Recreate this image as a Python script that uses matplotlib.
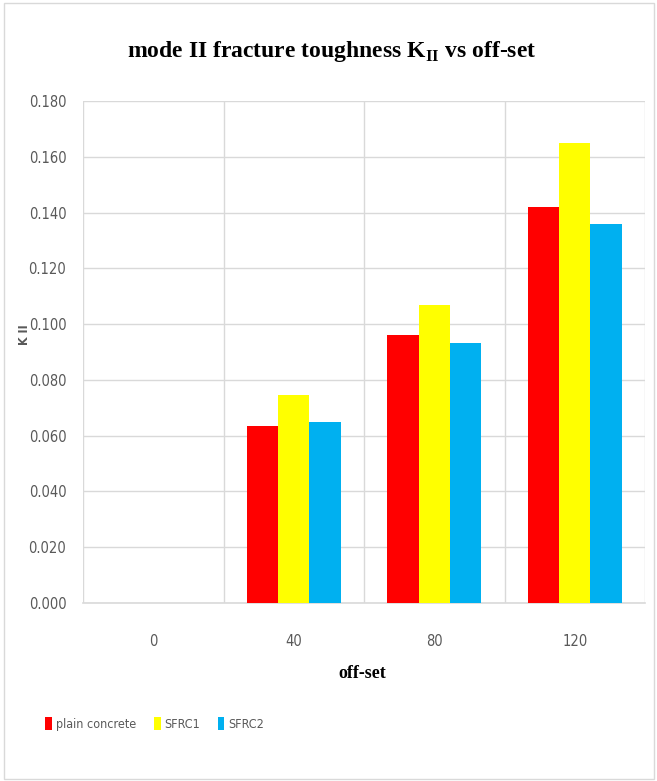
import matplotlib.pyplot as plt
import numpy as np
from matplotlib.patches import Rectangle

# data
offsets = ['0', '40', '80', '120']
plain_concrete = [0.0, 0.0634, 0.0960, 0.1421]
sfrc1 = [0.0, 0.0745, 0.1068, 0.1648]
sfrc2 = [0.0, 0.0648, 0.0931, 0.1358]

series = [('plain concrete', plain_concrete, '#ff0000'),
          ('SFRC1', sfrc1, '#ffff00'),
          ('SFRC2', sfrc2, '#00b0f0')]

narrow = ['DejaVu Sans']
serif = ['Liberation Serif', 'DejaVu Serif']
grey = '#595959'

fig = plt.figure(figsize=(6.57, 7.81), dpi=100)
W, H = 657, 781
ax = fig.add_axes([83 / W, 1 - 603 / H, (645 - 83) / W, (603 - 101) / H])

# light border round the whole chart
fig.patches.append(Rectangle((4 / W, 2 / H), 650 / W, 776 / H, transform=fig.transFigure,
                             fill=False, edgecolor='#d9d9d9', linewidth=1))

x = np.arange(len(offsets))
bw = 0.222
for i, (label, vals, col) in enumerate(series):
    ax.bar(x + (i - 1) * bw, vals, width=bw, color=col, label=label, zorder=3)

ax.set_xlim(-0.5, len(offsets) - 0.5)
ax.set_ylim(0, 0.18)
ax.set_yticks(np.arange(0, 0.181, 0.02))
ax.set_yticklabels(['%.3f' % v for v in np.arange(0, 0.181, 0.02)])
ax.set_xticks(x)
ax.set_xticklabels(offsets)

# gridlines: horizontal at y ticks, vertical at category boundaries
ax.grid(axis='y', color='#d9d9d9', linewidth=1, zorder=0)
for b in np.arange(-0.5, len(offsets), 1.0):
    ax.axvline(b, color='#d9d9d9', linewidth=1, zorder=0)

for s in ['top', 'right', 'left']:
    ax.spines[s].set_visible(False)
ax.spines['bottom'].set_color('#d9d9d9')
ax.spines['bottom'].set_linewidth(1.2)

ax.tick_params(axis='both', length=0, labelcolor=grey, labelsize=10.5)
ax.tick_params(axis='y', pad=12)
ax.tick_params(axis='x', pad=22)
for t in ax.get_xticklabels() + ax.get_yticklabels():
    t.set_family(narrow)
    t.set_stretch('condensed')

fig.text(0.505, 1 - 52 / H, r'mode II fracture toughness K$_{\mathregular{II}}$ vs off-set',
         ha='center', va='center', fontsize=17, fontweight='bold', family=serif)
fig.text(25 / W, 1 - 335 / H, 'K II', rotation=90, ha='center', va='center',
         fontsize=9, fontweight='bold', color=grey, family=narrow, stretch='condensed')
fig.text(362 / W, 1 - 673 / H, 'off-set', ha='center', va='center',
         fontsize=13, fontweight='bold', family=serif)

leg = fig.legend(loc='center left', bbox_to_anchor=(34 / W, 1 - 724 / H), ncol=3, frameon=False,
                 handlelength=0.55, handleheight=1.2, handletextpad=0.3, columnspacing=1.4,
                 prop={'family': narrow, 'size': 9, 'stretch': 'condensed'})
for t in leg.get_texts():
    t.set_color(grey)

plt.savefig('out.png', dpi=100)
